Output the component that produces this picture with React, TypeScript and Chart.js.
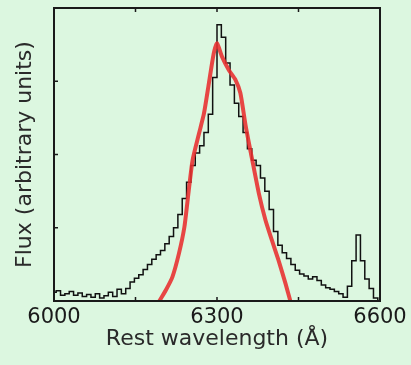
import React, { useEffect, useRef } from 'react';
import { Chart, registerables } from 'chart.js';

Chart.register(...registerables);

// Observed spectrum (black, stepped)
const observedWavelength = [
  6000, 6008, 6016, 6024, 6032, 6040, 6048, 6056, 6064, 6072, 6080, 6088, 6096, 6104, 6112, 6120,
  6128, 6136, 6144, 6152, 6160, 6168, 6176, 6184, 6192, 6200, 6208, 6216, 6224, 6232, 6240, 6248,
  6256, 6264, 6272, 6280, 6288, 6296, 6304, 6312, 6320, 6328, 6336, 6344, 6352, 6360, 6368, 6376,
  6384, 6392, 6400, 6408, 6416, 6424, 6432, 6440, 6448, 6456, 6464, 6472, 6480, 6488, 6496, 6504,
  6512, 6520, 6528, 6536, 6544, 6552, 6560, 6568, 6576, 6584, 6592, 6600,
];
const observedFlux = [
  0.12, 0.14, 0.08, 0.10, 0.13, 0.08, 0.11, 0.06, 0.09, 0.05, 0.10, 0.04, 0.07, 0.12, 0.06, 0.16,
  0.10, 0.17, 0.26, 0.31, 0.36, 0.43, 0.50, 0.57, 0.63, 0.69, 0.78, 0.88, 1.00, 1.18, 1.40, 1.62,
  1.85, 2.02, 2.12, 2.30, 2.55, 3.05, 3.77, 3.60, 3.25, 2.95, 2.70, 2.52, 2.30, 2.08, 1.92, 1.85,
  1.68, 1.50, 1.25, 0.95, 0.76, 0.66, 0.58, 0.50, 0.42, 0.37, 0.34, 0.30, 0.33, 0.28, 0.22, 0.18,
  0.16, 0.13, 0.10, 0.05, 0.20, 0.55, 0.90, 0.55, 0.30, 0.17, 0.04, 0.00,
];

// Model profile (red)
const modelWavelength = [
  6194, 6206, 6218, 6230, 6240, 6246, 6255, 6267, 6276, 6285, 6294, 6300,
  6309, 6322, 6334, 6343, 6353, 6365, 6377, 6389, 6401, 6413, 6426, 6435,
];
const modelFlux = [
  0.0, 0.15, 0.33, 0.65, 1.01, 1.38, 1.92, 2.29, 2.56, 2.97, 3.38, 3.52,
  3.34, 3.15, 3.02, 2.84, 2.38, 1.92, 1.47, 1.11, 0.83, 0.56, 0.24, 0.0,
];

const xTickLabels = [6000, 6300, 6600];
const xRange = [6000, 6600];
const yRange = [0, 4];

const BG = '#dcf7e0';

const framePlugin = {
  id: 'frame',
  beforeDraw(chart: any) {
    const ctx = chart.ctx;
    ctx.save();
    ctx.fillStyle = BG;
    ctx.fillRect(0, 0, chart.width, chart.height);
    ctx.restore();
  },
  afterDatasetsDraw(chart: any) {
    const { ctx, chartArea } = chart;
    const xs = chart.scales.x;
    const ys = chart.scales.y;
    const { left, right, top, bottom } = chartArea;
    ctx.save();
    ctx.strokeStyle = '#1a1a1a';
    ctx.lineWidth = 1.5;
    const len = 4;
    xs.ticks.forEach((t: any) => {
      if (t.value <= xs.min || t.value >= xs.max) return;
      const px = xs.getPixelForValue(t.value);
      ctx.beginPath();
      ctx.moveTo(px, bottom);
      ctx.lineTo(px, bottom - len);
      ctx.moveTo(px, top);
      ctx.lineTo(px, top + len);
      ctx.stroke();
    });
    ys.ticks.forEach((t: any) => {
      if (t.value <= ys.min || t.value >= ys.max) return;
      const py = ys.getPixelForValue(t.value);
      ctx.beginPath();
      ctx.moveTo(left, py);
      ctx.lineTo(left + len, py);
      ctx.stroke();
    });
    ctx.lineWidth = 2;
    ctx.strokeRect(left, top, right - left, bottom - top);
    ctx.restore();
  },
};

export default function App() {
  const ref = useRef<HTMLCanvasElement>(null);
  useEffect(() => {
    document.body.style.margin = '0';
    document.body.style.background = BG;
    const canvas = ref.current;
    if (!canvas) return;
    const chart = new Chart(canvas, {
      type: 'line',
      data: {
        datasets: [
          {
            label: 'Model',
            data: modelWavelength.map((x, i) => ({ x, y: modelFlux[i] })),
            borderColor: 'rgba(232,45,45,0.88)',
            borderWidth: 4,
            pointRadius: 0,
            tension: 0.2,
            order: 0,
          },
          {
            label: 'Observed',
            data: observedWavelength.map((x, i) => ({ x, y: observedFlux[i] })),
            borderColor: '#111111',
            borderWidth: 1.5,
            pointRadius: 0,
            stepped: 'middle',
            order: 1,
          },
        ],
      },
      options: {
        animation: false,
        responsive: false,
        layout: { padding: { left: 0, right: 31, top: 8, bottom: 0 } },
        plugins: {
          legend: { display: false },
          tooltip: { enabled: false },
        },
        scales: {
          x: {
            type: 'linear',
            min: xRange[0],
            max: xRange[1],
            grid: { display: false, drawTicks: false },
            border: { display: false },
            ticks: {
              stepSize: 150,
              autoSkip: false,
              maxRotation: 0,
              padding: 4,
              color: '#1a1a1a',
              font: { family: 'DejaVu Sans', size: 21 },
              callback: (v: any) => (xTickLabels.includes(Number(v)) ? String(v) : ''),
            },
            title: {
              display: true,
              text: 'Rest wavelength (Å)',
              color: '#2a2a2a',
              font: { family: 'DejaVu Sans', size: 22 },
              padding: { top: 0, bottom: 13 },
            },
            afterFit: (s: any) => {
              s.height = 64;
            },
          },
          y: {
            type: 'linear',
            min: yRange[0],
            max: yRange[1],
            grid: { display: false, drawTicks: false },
            border: { display: false },
            ticks: { stepSize: 1, display: false },
            title: {
              display: true,
              text: 'Flux (arbitrary units)',
              color: '#2a2a2a',
              font: { family: 'DejaVu Sans', size: 22 },
              padding: { top: 12, bottom: 0 },
            },
            afterFit: (s: any) => {
              s.width = 54;
            },
          },
        },
      },
      plugins: [framePlugin],
    });
    return () => chart.destroy();
  }, []);
  return (
    <div style={{ width: 411, height: 365, background: BG }}>
      <canvas ref={ref} width={411} height={365} style={{ display: 'block' }} />
    </div>
  );
}
